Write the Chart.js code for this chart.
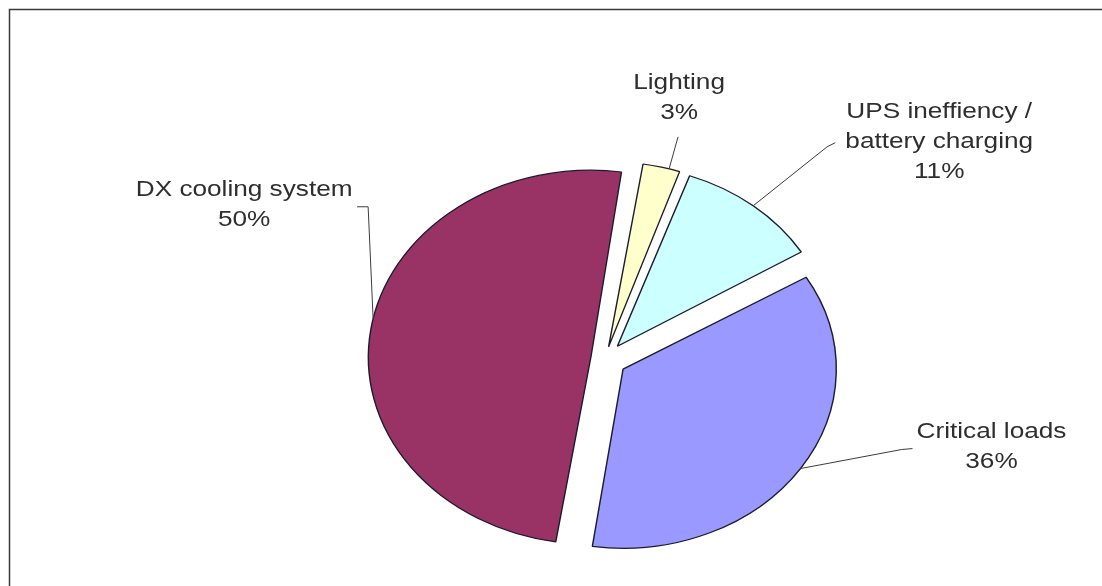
<!DOCTYPE html>
<html>
<head>
<meta charset="utf-8">
<script src="https://cdn.jsdelivr.net/npm/chart.js@4.4.1/dist/chart.umd.min.js"></script>
<style>
  html, body { margin: 0; padding: 0; background: #fff; }
  #wrap { width: 1102px; height: 586px; position: relative; }
</style>
</head>
<body>
<div id="wrap"><canvas id="pie"></canvas></div>
<script>
// Slice names and shares (%)
const categories = ["Lighting", "UPS ineffiency / battery charging", "Critical loads", "DX cooling system"];
const shares = [3, 11, 36, 50];
// How each label is split into lines
const labelLines = [
  ["Lighting"],
  ["UPS ineffiency /", "battery charging"],
  ["Critical loads"],
  ["DX cooling system"],
];

// Excel 2003 style fills
const sliceColors = ["#FFFFCC", "#CCFFFF", "#9999FF", "#993366"];
// explode distance per slice
const sliceOffsets = [50, 66, 73, 48];

// The old picture is stretched sideways, so draw it the same way
const SX = 1.19;

// where the leader touches the slice (0..1 along the arc), label centre relative to that point,
// and leader bend/end relative to label centre
const labelPlace = [
  { at: 0.7, dx: 10, dy: -71, bend: [-1, 39], end: [-1, 39] },
  { at: 0.5, dx: 186, dy: -64, bend: [-112, 5], end: [-104, 1] },
  { at: 0.5, dx: 191, dy: -22, bend: [-90, 3], end: [-79, 2] },
  { at: 0.52, dx: -129, dy: -114, bend: [124, 2], end: [113, 2] },
];

const frame = {
  id: "frame",
  beforeDraw(chart) {
    const ctx = chart.ctx;
    ctx.save();
    ctx.strokeStyle = "#3a3a3a";
    ctx.lineWidth = 1.5;
    ctx.strokeRect(9.5, 9.5, 1300, 800);
    ctx.restore();
  },
};

const stretch = {
  id: "stretch",
  beforeDatasetsDraw(chart) {
    const a = chart.chartArea;
    const cx = (a.left + a.right) / 2;
    chart.ctx.save();
    chart.ctx.translate(cx, 0);
    chart.ctx.scale(SX, 1);
    chart.ctx.translate(-cx, 0);
  },
  afterDatasetsDraw(chart) {
    chart.ctx.restore();
  },
};

const labels = {
  id: "sliceLabels",
  afterDraw(chart) {
    const ctx = chart.ctx;
    const a = chart.chartArea;
    const cx = (a.left + a.right) / 2;
    const meta = chart.getDatasetMeta(0);
    ctx.save();
    ctx.font = "22px 'Liberation Sans', Arial, sans-serif";
    ctx.fillStyle = "#2e2e2e";
    ctx.strokeStyle = "#3c3c3c";
    ctx.lineWidth = 1;
    ctx.textAlign = "center";
    ctx.textBaseline = "middle";
    meta.data.forEach((el, i) => {
      const p = el.getProps(["x", "y", "startAngle", "endAngle", "outerRadius", "circumference"], true);
      const pl = labelPlace[i];
      const mid = (p.startAngle + p.endAngle) / 2;
      const ang = p.startAngle + (p.endAngle - p.startAngle) * pl.at;
      // same push-out the arc element uses when it is exploded
      const off = (el.options.offset || 0) / 4;
      const fix = 1 - Math.sin(Math.min(Math.PI, p.circumference));
      const push = off * (1 + fix);
      const ux = p.x + Math.cos(mid) * push + Math.cos(ang) * p.outerRadius;
      const ay = p.y + Math.sin(mid) * push + Math.sin(ang) * p.outerRadius;
      const ax = cx + (ux - cx) * SX;
      const lx = ax + pl.dx;
      const ly = ay + pl.dy;

      ctx.beginPath();
      ctx.moveTo(ax, ay);
      ctx.lineTo(lx + pl.bend[0], ly + pl.bend[1]);
      ctx.lineTo(lx + pl.end[0], ly + pl.end[1]);
      ctx.stroke();

      const lines = labelLines[i].concat([shares[i] + "%"]);
      const top = ly - (lines.length - 1) * 15;
      lines.forEach((t, k) => {
        ctx.save();
        ctx.translate(lx, top + k * 30);
        ctx.scale(SX, 1);
        ctx.fillText(t, 0, 0);
        ctx.restore();
      });
    });
    ctx.restore();
  },
};

new Chart(document.getElementById("pie"), {
  type: "pie",
  plugins: [frame, stretch, labels],
  data: {
    labels: categories,
    datasets: [
      {
        data: shares,
        backgroundColor: sliceColors,
        borderColor: "#1c1c2c",
        borderWidth: 1.2,
        offset: sliceOffsets,
        rotation: 8.5,
        radius: 175,
      },
    ],
  },
  options: {
    responsive: true,
    maintainAspectRatio: false,
    animation: false,
    layout: { padding: { left: 108, top: 132, right: 0, bottom: 0 } },
    plugins: {
      legend: { display: false },
      tooltip: { enabled: false },
    },
  },
});
</script>
</body>
</html>
